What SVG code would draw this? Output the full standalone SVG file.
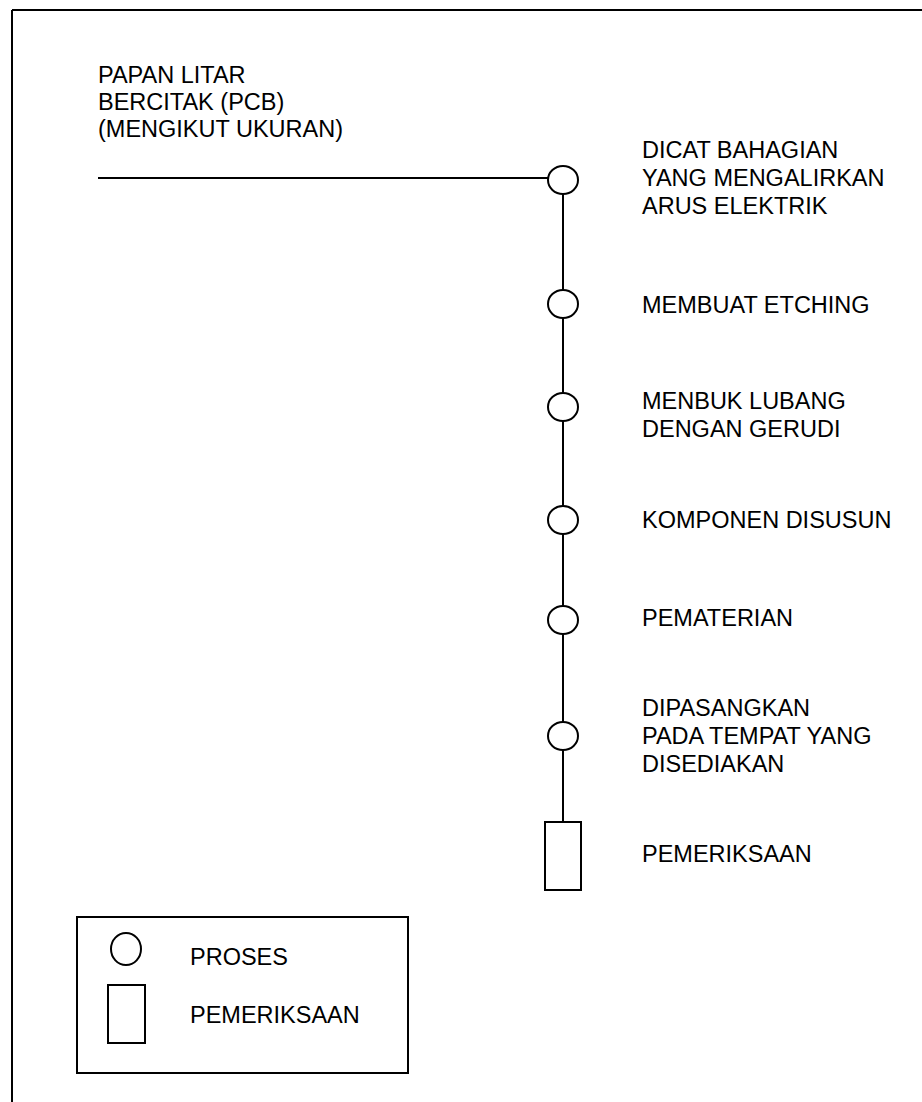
<svg xmlns="http://www.w3.org/2000/svg" width="922" height="1102" viewBox="0 0 922 1102">
<style>
.t{font-family:"Liberation Sans",Arial,sans-serif;font-size:23.5px;fill:#000}
.s{fill:#fff;stroke:#000;stroke-width:2}
.l{stroke:#000;stroke-width:2;fill:none}
</style>
<rect width="922" height="1102" fill="#fff"/>
<g id="frame">
<line class="l" x1="12" y1="10" x2="922" y2="10"/>
<line class="l" x1="12" y1="10" x2="12" y2="1102"/>
</g>
<g id="connectors">
<line class="l" x1="98" y1="178" x2="548" y2="178"/>
<line class="l" x1="563" y1="180" x2="563" y2="822"/>
</g>
<g id="start"><text class="t" x="98" y="83">PAPAN LITAR</text><text class="t" x="98" y="110">BERCITAK (PCB)</text><text class="t" x="98" y="137">(MENGIKUT UKURAN)</text></g>
<g id="p1"><ellipse class="s" cx="563" cy="180" rx="15" ry="14"/><text class="t" x="642" y="158">DICAT BAHAGIAN</text><text class="t" x="642" y="186">YANG MENGALIRKAN</text><text class="t" x="642" y="214">ARUS ELEKTRIK</text></g>
<g id="p2"><ellipse class="s" cx="563" cy="304" rx="15" ry="14"/><text class="t" x="642" y="313">MEMBUAT ETCHING</text></g>
<g id="p3"><ellipse class="s" cx="563" cy="407" rx="15" ry="14"/><text class="t" x="642" y="409">MENBUK LUBANG</text><text class="t" x="642" y="437">DENGAN GERUDI</text></g>
<g id="p4"><ellipse class="s" cx="563" cy="520" rx="15" ry="14"/><text class="t" x="642" y="528">KOMPONEN DISUSUN</text></g>
<g id="p5"><ellipse class="s" cx="563" cy="620" rx="15" ry="14"/><text class="t" x="642" y="626">PEMATERIAN</text></g>
<g id="p6"><ellipse class="s" cx="563" cy="736" rx="15" ry="14"/><text class="t" x="642" y="716">DIPASANGKAN</text><text class="t" x="642" y="744">PADA TEMPAT YANG</text><text class="t" x="642" y="772">DISEDIAKAN</text></g>
<g id="check"><rect class="s" x="545" y="822" width="36" height="68"/><text class="t" x="642" y="862">PEMERIKSAAN</text></g>
<g id="legend">
<rect class="s" x="77" y="917" width="331" height="156"/>
<ellipse class="s" cx="126" cy="949" rx="15" ry="16"/><text class="t" x="190" y="965">PROSES</text>
<rect class="s" x="108" y="985" width="37" height="58"/><text class="t" x="190" y="1023">PEMERIKSAAN</text>
</g>
</svg>
